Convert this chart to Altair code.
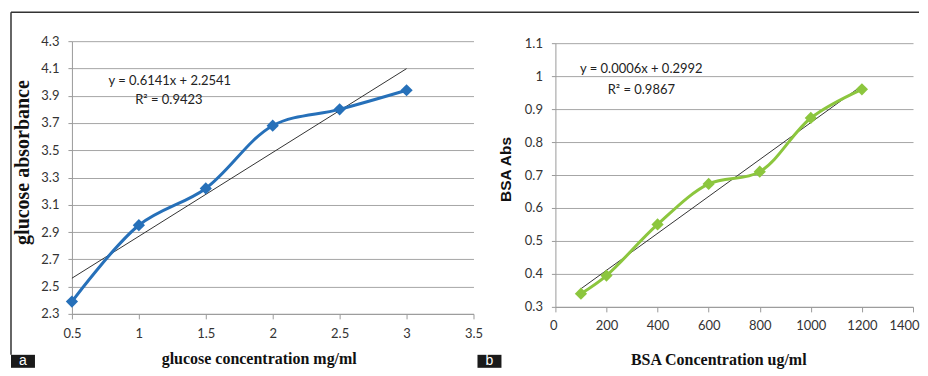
import altair as alt
import pandas as pd

# ---- data ----
glucose_conc = [0.5, 1.0, 1.5, 2.0, 2.5, 3.0]
glucose_abs = [2.39, 2.95, 3.22, 3.68, 3.80, 3.94]
glucose_xticks = [0.5, 1.0, 1.5, 2.0, 2.5, 3.0, 3.5]
glucose_yticks = [2.3, 2.5, 2.7, 2.9, 3.1, 3.3, 3.5, 3.7, 3.9, 4.1, 4.3]

bsa_conc = [100, 200, 400, 600, 800, 1000, 1200]
bsa_abs = [0.34, 0.395, 0.55, 0.673, 0.71, 0.873, 0.96]
bsa_xticks = [0, 200, 400, 600, 800, 1000, 1200, 1400]
bsa_yticks = [0.3, 0.4, 0.5, 0.6, 0.7, 0.8, 0.9, 1.0, 1.1]

glucose_eq = ["y = 0.6141x + 2.2541", "R\u00b2 = 0.9423"]
bsa_eq = ["y = 0.0006x + 0.2992", "R\u00b2 = 0.9867"]

BLUE = "#2670b9"
GREEN = "#8cc63e"
GRID = "#a6a6a6"
AX = "#9a9a9a"
LABEL_FONT = "Lato"
SERIF = "Liberation Serif"

gdf = pd.DataFrame({"x": glucose_conc, "y": glucose_abs})
bdf = pd.DataFrame({"x": bsa_conc, "y": bsa_abs})
one = alt.Data(values=[{}])

# ---------------- panel a ----------------
gx = alt.X("x:Q",
           scale=alt.Scale(domain=[0.5, 3.5], nice=False, zero=False),
           axis=alt.Axis(values=glucose_xticks, format=".1~f", grid=False, labelFlush=False,
                         domainColor=AX, tickColor=AX, tickSize=5, labelPadding=9,
                         title="glucose concentration mg/ml", titleFont=SERIF,
                         titleFontWeight="bold", titleFontSize=16, titleColor="#111",
                         titleX=187, titleY=50, titleBaseline="alphabetic", titleAlign="center"))
gy = alt.Y("y:Q",
           scale=alt.Scale(domain=[2.3, 4.3], nice=False, zero=False),
           axis=alt.Axis(values=glucose_yticks, format=".1f", grid=True, gridColor=GRID,
                         domainColor=AX, tickColor=AX, tickSize=4, labelPadding=9,
                         title="glucose absorbance", titleFont=SERIF,
                         titleFontWeight="bold", titleFontSize=20, titleColor="#111",
                         titleX=-49, titleY=121, titleAngle=270,
                         titleBaseline="middle", titleAlign="center"))

g_base = alt.Chart(gdf)
g_trend = g_base.transform_regression("x", "y", extent=[0.5, 3.0]).mark_line(
    color="#333333", strokeWidth=1).encode(x=gx, y=gy)
g_line = g_base.mark_line(color=BLUE, strokeWidth=3, interpolate="catmull-rom").encode(x=gx, y=gy)
g_pts = g_base.mark_point(shape="diamond", filled=True, size=150, color=BLUE, opacity=1).encode(x=gx, y=gy)

frame_top = alt.Chart(one).mark_rule(color="#333333", strokeWidth=1.5).encode(
    x=alt.value(-61), x2=alt.value(848), y=alt.value(-29))
frame_left = alt.Chart(one).mark_rule(color="#333333", strokeWidth=1.5).encode(
    x=alt.value(-61), y=alt.value(-29), y2=alt.value(314))
a_box = alt.Chart(one).mark_rect(color="#1a1a1a").encode(
    x=alt.value(-61), x2=alt.value(-37), y=alt.value(314), y2=alt.value(327))
a_txt = alt.Chart(one).mark_text(text="a", color="white", font="Liberation Sans",
                                 fontSize=14, baseline="middle", align="center").encode(
    x=alt.value(-49), y=alt.value(320.5))
g_eq1 = alt.Chart(one).mark_text(text=glucose_eq[0], font=LABEL_FONT, fontSize=13,
                                 color="#222", align="center", baseline="middle").encode(
    x=alt.value(98), y=alt.value(40))
g_eq2 = alt.Chart(one).mark_text(text=glucose_eq[1], font=LABEL_FONT, fontSize=13,
                                 color="#222", align="center", baseline="middle").encode(
    x=alt.value(97), y=alt.value(59))

panel_a = alt.layer(frame_top, frame_left, a_box, a_txt, g_trend, g_line, g_pts, g_eq1, g_eq2
                    ).properties(width=402, height=273)

# ---------------- panel b ----------------
bx = alt.X("x:Q",
           scale=alt.Scale(domain=[0, 1400], nice=False, zero=False),
           axis=alt.Axis(values=bsa_xticks, format="d", grid=False,
                         labelFlush=True, labelFlushOffset=6,
                         domainColor=AX, tickColor=AX, tickSize=5, labelPadding=8,
                         title="BSA Concentration ug/ml", titleFont=SERIF,
                         titleFontWeight="bold", titleFontSize=16, titleColor="#111",
                         titleX=163, titleY=58, titleBaseline="alphabetic", titleAlign="center"))
by = alt.Y("y:Q",
           scale=alt.Scale(domain=[0.3, 1.1], nice=False, zero=False, range=[266, 2]),
           axis=alt.Axis(values=bsa_yticks, format=".1~f", grid=True, gridColor=GRID,
                         domainColor=AX, tickColor=AX, tickSize=4, labelPadding=9,
                         title="BSA Abs", titleFont="Liberation Sans",
                         titleFontWeight="bold", titleFontSize=15.5, titleColor="#111",
                         titleX=-50, titleY=128, titleAngle=270,
                         titleBaseline="middle", titleAlign="center"))

b_base = alt.Chart(bdf)
b_trend = b_base.transform_regression("x", "y", extent=[100, 1200]).mark_line(
    color="#333333", strokeWidth=1).encode(x=bx, y=by)
b_line = b_base.mark_line(color=GREEN, strokeWidth=3, interpolate="catmull-rom").encode(x=bx, y=by)
b_pts = b_base.mark_point(shape="diamond", filled=True, size=150, color=GREEN, opacity=1).encode(x=bx, y=by)

b_box = alt.Chart(one).mark_rect(color="#1a1a1a").encode(
    x=alt.value(-78), x2=alt.value(-54), y=alt.value(314), y2=alt.value(327))
b_txt = alt.Chart(one).mark_text(text="b", color="white", font="Liberation Sans",
                                 fontSize=14, baseline="middle", align="center").encode(
    x=alt.value(-66), y=alt.value(320.5))
b_eq1 = alt.Chart(one).mark_text(text=bsa_eq[0], font=LABEL_FONT, fontSize=13,
                                 color="#222", align="center", baseline="middle").encode(
    x=alt.value(86), y=alt.value(28))
b_eq2 = alt.Chart(one).mark_text(text=bsa_eq[1], font=LABEL_FONT, fontSize=13,
                                 color="#222", align="center", baseline="middle").encode(
    x=alt.value(86), y=alt.value(49))

panel_b = alt.layer(b_box, b_txt, b_trend, b_line, b_pts, b_eq1, b_eq2
                    ).properties(width=358, height=266)

chart = alt.hconcat(panel_a, panel_b, spacing=82, bounds="flush").properties(
    padding={"left": 2, "top": 3, "right": 0, "bottom": 0},
    background="white",
).configure_view(stroke=None).configure_axis(
    labelFont=LABEL_FONT, labelFontSize=13, labelColor="#333333"
)

chart.save("out.html", embed_options={"renderer": "svg", "actions": False})
